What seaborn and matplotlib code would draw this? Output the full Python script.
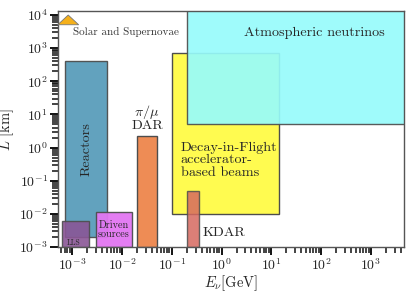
import numpy as np
import matplotlib
matplotlib.use("Agg")
import matplotlib.pyplot as plt
import matplotlib.ticker as mticker
import seaborn as sns

# Source regions in (E [GeV], L [km]) space
names = ["Atmospheric", "Decay-in-Flight", "Reactors", "LLS", "Driven", "DAR", "KDAR"]
e_lo = [0.2, 0.1, 7e-4, 6.3e-4, 3e-3, 2e-2, 0.2]
e_hi = [1e4, 14, 5e-3, 2.2e-3, 1.6e-2, 5e-2, 0.35]
l_lo = [5.0, 1e-2, 2e-3, 1e-3, 1e-3, 1e-3, 1e-3]
l_hi = [1e5, 700, 400, 6e-3, 1.1e-2, 2.2, 5e-2]
colors = ["#97fbfb", "#fffb50", "#5a9dbb", "#8a5696", "#e276f2", "#ee8c55", "#d6695f"]
alphas = [0.92, 1.0, 0.95, 0.9, 0.95, 1.0, 0.85]

sns.set_style("ticks")
plt.rcParams["font.family"] = ["cmr10", "DejaVu Serif"]
plt.rcParams["mathtext.fontset"] = "cm"
plt.rcParams["axes.formatter.use_mathtext"] = True

fig = plt.figure(figsize=(4.15, 2.92), dpi=100)
ax = fig.add_axes([0.14, 0.154, 0.833, 0.808])
ax.set_xscale("log")
ax.set_yscale("log")

order = [1, 0, 2, 3, 4, 5, 6]
for i in order:
    ax.bar(e_lo[i], l_hi[i] - l_lo[i], width=e_hi[i] - e_lo[i], bottom=l_lo[i],
           align="edge", color=colors[i], alpha=alphas[i],
           edgecolor=(0.3, 0.3, 0.3, 0.7), linewidth=1.0)

ax.set_xlim(5.2e-4, 4.6e3)
ax.set_ylim(1e-3, 1.3e4)

# labels
ax.text(75, 2.9e3, "Atmospheric neutrinos", ha="center", va="center", fontsize=10.2)
ax.text(0.15, 1.45, "Decay-in-Flight\naccelerator-\nbased beams", ha="left", va="top",
        fontsize=10.2, linespacing=1.0)
ax.text(1.95e-3, 0.9, "Reactors", rotation=90, ha="center", va="center", fontsize=10.2)
ax.text(3.2e-2, 2.9, "$\\pi/\\mu$\nDAR", ha="center", va="bottom", fontsize=10.2,
        linespacing=0.95)
ax.text(0.42, 2.6e-3, "KDAR", ha="left", va="center", fontsize=10.2)
ax.text(6.9e-3, 3.3e-3, "Driven\nsources", ha="center", va="center", fontsize=7.3,
        linespacing=0.95)
ax.text(1.05e-3, 1.35e-3, "LLS", ha="center", va="center", fontsize=5.5)
ax.text(1.05e-3, 3.1e3, "Solar and Supernovae", ha="left", va="center", fontsize=8,
        color="#333333")
ax.annotate("", xy=(8.3e-4, 1.2e4), xytext=(8.3e-4, 5.8e3),
            arrowprops=dict(arrowstyle="simple,head_width=1.5,head_length=0.7,tail_width=0.6",
                            fc="#f5b01a", ec="#777777", lw=0.6))

ax.set_xlabel("$E_\\nu$[GeV]", fontsize=10.5, labelpad=0)
ax.set_ylabel("$L$ [km]", fontsize=10.5, labelpad=2)

# ticks
decades = 10.0 ** np.arange(-4, 5)
minor = (decades[:, None] * np.arange(2, 10)[None, :]).ravel()
ax.xaxis.set_minor_locator(mticker.FixedLocator(minor))
ax.yaxis.set_minor_locator(mticker.FixedLocator(minor))
ax.xaxis.set_minor_formatter(mticker.NullFormatter())
ax.yaxis.set_minor_formatter(mticker.NullFormatter())
ax.tick_params(which="major", labelsize=10, length=5.5, width=1.3, pad=2, color="black")
ax.tick_params(which="minor", length=4, width=1.1, color="#111111")
for s in ax.spines.values():
    s.set_color("#555555")
    s.set_linewidth(1.0)

fig.savefig("out.png", dpi=100)
